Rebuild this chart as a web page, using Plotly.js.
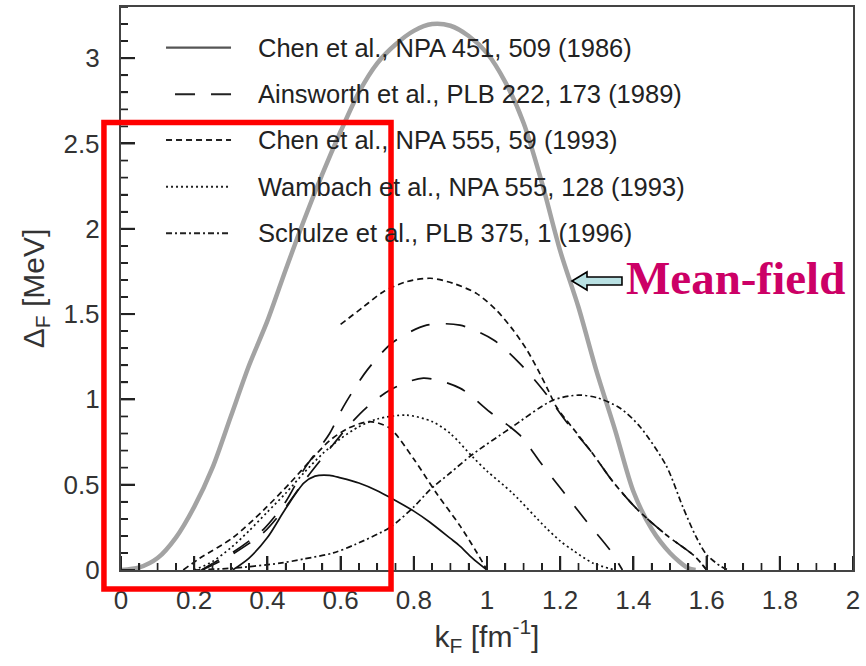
<!DOCTYPE html>
<html>
<head>
<meta charset="utf-8">
<script src="https://cdn.plot.ly/plotly-3.0.1.min.js"></script>
<style>html,body{margin:0;padding:0;background:#fff;}#chart{width:866px;height:666px;}</style>
</head>
<body>
<div id="chart"></div>
<script>
// ---- Data ----
const meanFieldX = [0, 0.05, 0.1, 0.15, 0.2, 0.25, 0.3, 0.35, 0.4, 0.45, 0.5, 0.55, 0.6, 0.65, 0.7, 0.75, 0.8, 0.85, 0.9, 0.95, 1.0, 1.05, 1.1, 1.15, 1.2, 1.25, 1.3, 1.35, 1.4, 1.45, 1.5, 1.55, 1.57];
const meanFieldY = [0, 0.015, 0.07, 0.19, 0.37, 0.6, 0.9, 1.2, 1.46, 1.76, 2.05, 2.32, 2.57, 2.8, 2.97, 3.08, 3.16, 3.2, 3.19, 3.13, 3.03, 2.86, 2.62, 2.27, 1.87, 1.54, 1.16, 0.82, 0.46, 0.24, 0.1, 0.01, 0];

const chen86X = [0.305, 0.35, 0.4, 0.45, 0.5, 0.53, 0.57, 0.6, 0.65, 0.7, 0.735, 0.8, 0.844, 0.9, 0.926, 0.96, 1.0];
const chen86Y = [0, 0.07, 0.19, 0.36, 0.51, 0.55, 0.555, 0.54, 0.51, 0.465, 0.425, 0.345, 0.28, 0.185, 0.14, 0.07, 0];

const ainsAX = [0.22, 0.26, 0.31, 0.39, 0.45, 0.5, 0.57, 0.607, 0.672, 0.743, 0.835, 0.926, 1.017, 1.09, 1.153, 1.22, 1.286, 1.345, 1.413, 1.49, 1.568, 1.6];
const ainsAY = [0, 0.05, 0.11, 0.24, 0.4, 0.59, 0.8, 0.955, 1.17, 1.335, 1.435, 1.435, 1.35, 1.21, 1.055, 0.86, 0.69, 0.515, 0.35, 0.205, 0.08, 0];
const ainsBX = [0.22, 0.26, 0.31, 0.39, 0.45, 0.5, 0.57, 0.62, 0.67, 0.735, 0.826, 0.926, 1.008, 1.09, 1.145, 1.208, 1.27, 1.336, 1.37];
const ainsBY = [0, 0.04, 0.1, 0.22, 0.37, 0.52, 0.71, 0.84, 0.95, 1.055, 1.125, 1.066, 0.926, 0.79, 0.633, 0.46, 0.29, 0.117, 0];

const chen93AX = [0.6, 0.661, 0.716, 0.78, 0.845, 0.908, 0.972, 1.027, 1.072, 1.109, 1.14, 1.167, 1.19, 1.235, 1.286, 1.345, 1.413, 1.49, 1.568, 1.6];
const chen93AY = [1.44, 1.54, 1.63, 1.69, 1.71, 1.68, 1.62, 1.52, 1.405, 1.29, 1.17, 1.055, 0.955, 0.83, 0.69, 0.515, 0.35, 0.205, 0.08, 0];
const chen93BX = [0.17, 0.216, 0.306, 0.389, 0.462, 0.525, 0.571, 0.62, 0.68, 0.735, 0.8, 0.862, 0.926, 0.97, 1.0];
const chen93BY = [0, 0.07, 0.19, 0.35, 0.51, 0.66, 0.76, 0.83, 0.87, 0.83, 0.65, 0.45, 0.26, 0.11, 0];

const wambachX = [0.2, 0.25, 0.3, 0.35, 0.4, 0.45, 0.5, 0.55, 0.6, 0.65, 0.7, 0.78, 0.85, 0.9, 0.962, 1.0, 1.07, 1.16, 1.2, 1.235, 1.29, 1.35];
const wambachY = [0, 0.05, 0.13, 0.23, 0.34, 0.45, 0.57, 0.68, 0.77, 0.84, 0.885, 0.908, 0.87, 0.8, 0.66, 0.58, 0.45, 0.25, 0.17, 0.115, 0.04, 0];

const schulzeX = [0.2, 0.3, 0.434, 0.5, 0.58, 0.64, 0.735, 0.8, 0.844, 0.9, 0.962, 1.063, 1.18, 1.25, 1.3, 1.363, 1.418, 1.49, 1.535, 1.57, 1.6, 1.64, 1.66];
const schulzeY = [0, 0.01, 0.04, 0.065, 0.1, 0.15, 0.25, 0.37, 0.47, 0.57, 0.68, 0.83, 0.995, 1.025, 1.01, 0.95, 0.84, 0.61, 0.37, 0.2, 0.09, 0.02, 0];

const legendLabels = [
  "Chen et al., NPA 451, 509 (1986)",
  "Ainsworth et al., PLB 222, 173 (1989)",
  "Chen et al., NPA 555, 59 (1993)",
  "Wambach et al., NPA 555, 128 (1993)",
  "Schulze et al., PLB 375, 1 (1996)"
];
const legendDashes = ["solid", "20px,16px", "6px,4px", "2px,3px", "6px,3px,2px,3px"];

// axis settings
const xRange = [0, 2], xMajorStep = 0.2, xMinorStep = 0.05;
const yRange = [0, 3.3], yMajorStep = 0.5, yMinorStep = 0.1;

// ---- Styles ----
const black = "#111";
const lw = 1.7;
const tickColor = "#222";
const plotW = 732, plotH = 563; // plot area size in px

function curve(x, y, name, dash, color, width) {
  return {x: x, y: y, name: name, type: "scatter", mode: "lines",
    line: {color: color || black, width: width || lw, dash: dash, shape: "spline", smoothing: 0.8},
    showlegend: false, hoverinfo: "skip"};
}

// inside tick marks: one short line trace per tick, on the axes' own scales
function tickTraces() {
  const out = [];
  const xUnitsPerPx = (xRange[1] - xRange[0]) / plotW;
  const yUnitsPerPx = (yRange[1] - yRange[0]) / plotH;
  const nx = Math.round((xRange[1] - xRange[0]) / xMinorStep);
  for (let i = 0; i <= nx; i++) {
    const v = +(xRange[0] + i * xMinorStep).toFixed(4);
    const isMaj = Math.abs(v / xMajorStep - Math.round(v / xMajorStep)) < 1e-6;
    out.push({x: [v, v], y: [yRange[0], yRange[0] + (isMaj ? 14 : 7) * yUnitsPerPx],
      type: "scatter", mode: "lines", line: {color: tickColor, width: isMaj ? 2 : 1.7},
      showlegend: false, hoverinfo: "skip", cliponaxis: false});
  }
  const ny = Math.round((yRange[1] - yRange[0]) / yMinorStep);
  for (let i = 0; i <= ny; i++) {
    const v = +(yRange[0] + i * yMinorStep).toFixed(4);
    const isMaj = Math.abs(v / yMajorStep - Math.round(v / yMajorStep)) < 1e-6;
    out.push({x: [xRange[0], xRange[0] + (isMaj ? 14 : 7) * xUnitsPerPx], y: [v, v],
      type: "scatter", mode: "lines", line: {color: tickColor, width: isMaj ? 2 : 1.7},
      showlegend: false, hoverinfo: "skip", cliponaxis: false});
  }
  return out;
}

const traces = [
  curve(meanFieldX, meanFieldY, "Mean-field", "solid", "#a3a3a3", 4.5),
  curve(chen86X, chen86Y, legendLabels[0], legendDashes[0]),
  curve(ainsAX, ainsAY, legendLabels[1], legendDashes[1]),
  curve(ainsBX, ainsBY, legendLabels[1], legendDashes[1]),
  curve(chen93AX, chen93AY, legendLabels[2], legendDashes[2]),
  curve(chen93BX, chen93BY, legendLabels[2], legendDashes[2]),
  curve(wambachX, wambachY, legendLabels[3], legendDashes[3]),
  curve(schulzeX, schulzeY, legendLabels[4], legendDashes[4])
].concat(tickTraces());

const shapes = [];
const annotations = [];

// legend rows (paper coordinates)
const rowY = [0.9277, 0.8449, 0.7638, 0.6808, 0.5980];
for (let i = 0; i < legendLabels.length; i++) {
  shapes.push({type: "line", xref: "paper", yref: "paper",
    x0: i === 1 ? 0.0738 : 0.0615, x1: 0.1503, y0: rowY[i], y1: rowY[i],
    line: {color: i === 0 ? "#555" : "#222", width: i === 0 ? 2.2 : 2, dash: legendDashes[i]}});
  annotations.push({xref: "paper", yref: "paper", x: 0.1844, y: rowY[i],
    xanchor: "left", yanchor: "middle", showarrow: false, text: legendLabels[i],
    font: {family: "Liberation Sans, Arial, sans-serif", size: 25.5, color: "#222"}});
}
// red highlight rectangle
shapes.push({type: "rect", xref: "paper", yref: "paper",
  x0: -0.0233, x1: 0.3689, y0: -0.0337, y1: 0.7949,
  line: {color: "#ff0000", width: 5.5}, fillcolor: "rgba(0,0,0,0)"});
// block arrow pointing at the mean-field curve
shapes.push({type: "path", xref: "paper", yref: "paper",
  path: "M0.6161,0.5133 L0.6366,0.5293 L0.6366,0.5204 L0.6844,0.5204 L0.6844,0.5062 L0.6366,0.5062 L0.6366,0.4973 Z",
  fillcolor: "#b9e1e3", line: {color: "#000", width: 1.6}});
annotations.push({xref: "paper", yref: "paper", x: 0.8388, y: 0.5187,
  xanchor: "center", yanchor: "middle", showarrow: false, text: "<b>Mean-field</b>",
  font: {family: "Liberation Serif, Times New Roman, serif", size: 47, color: "#cc0066"}});

const axisFont = {family: "Liberation Sans, Arial, sans-serif", size: 26, color: "#333"};
const titleFont = {family: "Liberation Sans, Arial, sans-serif", size: 30, color: "#333"};
const layout = {
  width: 866, height: 666,
  margin: {l: 121, r: 13, t: 7, b: 96, pad: 0},
  paper_bgcolor: "#fff", plot_bgcolor: "#fff",
  showlegend: false,
  xaxis: {
    range: xRange, dtick: xMajorStep, tick0: 0, ticks: "inside", ticklen: 14, tickwidth: 2, tickcolor: tickColor,
    minor: {dtick: xMinorStep, ticks: "inside", ticklen: 7, tickwidth: 1.7, tickcolor: tickColor, showgrid: false},
    showline: true, linecolor: "#444", linewidth: 2.2, mirror: true, showgrid: false, zeroline: false,
    tickfont: axisFont, ticklabelstandoff: 6,
    title: {text: "k<sub>F</sub> [fm<sup>-1</sup>]", font: titleFont, standoff: 4}
  },
  yaxis: {
    range: yRange, dtick: yMajorStep, tick0: 0, ticks: "inside", ticklen: 14, tickwidth: 2, tickcolor: tickColor,
    minor: {dtick: yMinorStep, ticks: "inside", ticklen: 7, tickwidth: 1.7, tickcolor: tickColor, showgrid: false},
    showline: true, linecolor: "#444", linewidth: 2.2, mirror: true, showgrid: false, zeroline: false,
    tickfont: axisFont, ticklabelstandoff: 14,
    title: {text: "Δ<sub>F</sub> [MeV]", font: titleFont, standoff: 10}
  },
  shapes: shapes,
  annotations: annotations
};

Plotly.newPlot("chart", traces, layout, {staticPlot: true, displayModeBar: false});
</script>
</body>
</html>
